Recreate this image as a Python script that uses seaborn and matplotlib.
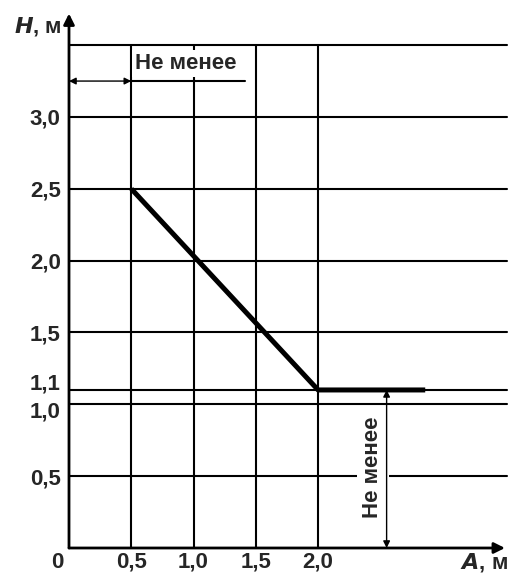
import numpy as np
import matplotlib
matplotlib.use("Agg")
import matplotlib.pyplot as plt
import matplotlib.transforms as mtransforms
import seaborn as sns
import pandas as pd

# grid positions (m)
grid_a = [0.5, 1.0, 1.5, 2.0]
grid_h = [0.5, 1.0, 1.1, 1.5, 2.0, 2.5, 3.0, 3.5]

# tick labels
a_ticks = [0.5, 1.0, 1.5, 2.0]
a_labels = ["0,5", "1,0", "1,5", "2,0"]
h_ticks = [0.5, 1.0, 1.1, 1.5, 2.0, 2.5, 3.0]
h_labels = ["0,5", "1,0", "1,1", "1,5", "2,0", "2,5", "3,0"]

# boundary line H(A)
line_a = [0.5, 2.0, 2.86]
line_h = [2.5, 1.1, 1.1]

# dimension marks
top_dim_h = 3.25
top_dim_a = [0.0, 0.5]
top_text_end = 1.41
side_dim_a = 2.55
side_dim_h = [0.0, 1.1]

sns.set_style("white")
plt.rcParams["font.family"] = ["Liberation Sans", "DejaVu Sans"]
plt.rcParams["font.weight"] = "bold"

FS = 16

fig = plt.figure(figsize=(5.1, 5.75), dpi=100)
ax = fig.add_axes([69 / 510, 27 / 575, 0.867, 0.937])
ax.set_xlim(0, 3.55)
ax.set_ylim(0, 3.75)
for s in ax.spines.values():
    s.set_visible(False)

grid_top = grid_h[-1]
grid_right = 3.52
for a in grid_a:
    ax.plot([a, a], [0, grid_top], color="black", lw=1.5, zorder=1)
for h in grid_h:
    ax.plot([0, grid_right], [h, h], color="black", lw=1.5, zorder=1)

df = pd.DataFrame({"A": line_a, "H": line_h})
sns.lineplot(data=df, x="A", y="H", ax=ax, color="black", lw=3.6,
             sort=False, zorder=3, solid_capstyle="butt")

# axes with arrows
ax.annotate("", xy=(3.5, 0), xytext=(0, 0),
            arrowprops=dict(arrowstyle="-|>", color="black", lw=2.0,
                            mutation_scale=16, shrinkA=0, shrinkB=0),
            annotation_clip=False, zorder=4)
ax.annotate("", xy=(0, 3.72), xytext=(0, 0),
            arrowprops=dict(arrowstyle="-|>", color="black", lw=2.0,
                            mutation_scale=16, shrinkA=0, shrinkB=0),
            annotation_clip=False, zorder=4)

# top dimension: "Не менее"
ax.text(0.53, top_dim_h + 0.05, "Не менее", fontsize=FS, ha="left", va="bottom",
        bbox=dict(facecolor="white", edgecolor="none", pad=2), zorder=2)
ax.annotate("", xy=(top_dim_a[0], top_dim_h), xytext=(top_dim_a[1], top_dim_h),
            arrowprops=dict(arrowstyle="<|-|>", color="black", lw=1.0,
                            mutation_scale=10, shrinkA=0, shrinkB=0), zorder=4)
ax.plot([top_dim_a[1], top_text_end], [top_dim_h, top_dim_h], color="black", lw=1.5, zorder=4)

# side dimension: "Не менее"
ax.text(side_dim_a - 0.11, 0.56, "Не менее", fontsize=FS, rotation=90,
        ha="center", va="center",
        bbox=dict(facecolor="white", edgecolor="none", pad=4), zorder=2)
ax.annotate("", xy=(side_dim_a, side_dim_h[0]), xytext=(side_dim_a, side_dim_h[1]),
            arrowprops=dict(arrowstyle="<|-|>", color="black", lw=1.0,
                            mutation_scale=10, shrinkA=0, shrinkB=0), zorder=4)

ax.set_xticks(a_ticks)
ax.set_xticklabels(a_labels)
ax.set_yticks(h_ticks)
ax.set_yticklabels(h_labels)
ax.tick_params(axis="both", length=0, labelsize=FS)
ax.tick_params(axis="x", pad=2.5)
ax.tick_params(axis="y", pad=6)
ax.set_xlabel("")
ax.set_ylabel("")

# nudge the crowded 1,1 / 1,0 labels apart
for lab, tick in zip(ax.get_yticklabels(), h_ticks):
    dy = 0
    if tick == 1.1:
        dy = 6
    elif tick == 1.0:
        dy = -4
    if dy:
        lab.set_transform(lab.get_transform() +
                          mtransforms.ScaledTranslation(0, dy / 72, fig.dpi_scale_trans))

ax.text(-0.09, -0.03, "0", fontsize=FS, ha="center", va="top")
ax.text(-0.06, 3.63, r"$\mathit{H}$, м", fontsize=FS, ha="right", va="center")
ax.text(3.52, -0.1, r"$\mathit{A}$, м", fontsize=FS, ha="right", va="center")

fig.savefig("out.png", dpi=100)
